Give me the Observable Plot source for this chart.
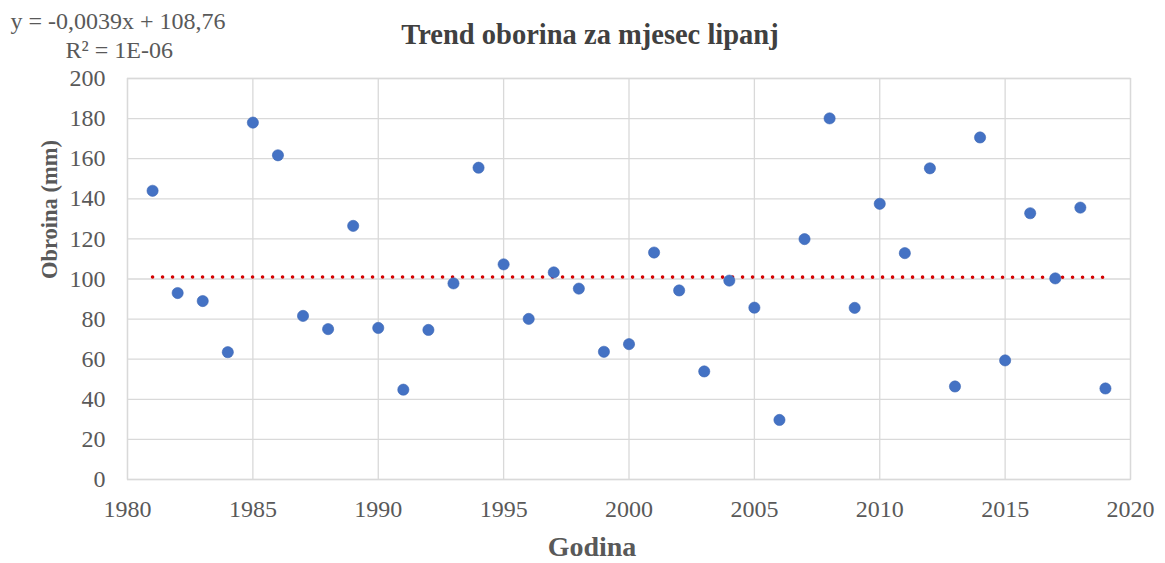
<!DOCTYPE html>
<html>
<head>
<meta charset="utf-8">
<script src="https://cdn.jsdelivr.net/npm/d3@7"></script>
<script src="https://cdn.jsdelivr.net/npm/@observablehq/plot@0.6"></script>
<style>
  html, body { margin: 0; padding: 0; background: #fff; }
  #chart svg { display: block; }
</style>
</head>
<body>
<div id="chart"></div>
<script>
const years = [1981,1982,1983,1984,1985,1986,1987,1988,1989,1990,1991,1992,1993,1994,1995,1996,1997,1998,1999,2000,2001,2002,2003,2004,2005,2006,2007,2008,2009,2010,2011,2012,2013,2014,2015,2016,2017,2018,2019];
const precipitation = [144,93,89,63.5,178,161.7,81.6,75,126.5,75.6,44.8,74.6,97.8,155.5,107.3,80.1,103.3,95.2,63.7,67.5,113.2,94.3,53.9,99.2,85.7,29.7,119.9,180.1,85.6,137.5,112.9,155.2,46.4,170.6,59.4,132.8,100.3,135.6,45.4];
const trendSlope = -0.0039;
const trendIntercept = 108.76;
const trendYears = [1981, 2019];
const xTicks = [1980,1985,1990,1995,2000,2005,2010,2015,2020];
const yTicks = [0,20,40,60,80,100,120,140,160,180,200];
const titleText = "Trend oborina za mjesec lipanj";
const xLabel = "Godina";
const yLabel = "Obroina (mm)";
const eqLine1 = "y = -0,0039x + 108,76";
const eqLine2 = "R² = 1E-06";

const points = years.map((y, i) => ({year: y, value: precipitation[i]}));
const trend = trendYears.map(y => ({year: y, value: trendSlope * y + trendIntercept}));

const serif = "'Liberation Serif', 'Times New Roman', serif";
const gridColor = "#d9d9d9";
const textColor = "#595959";

const chart = Plot.plot({
  width: 1165,
  height: 563,
  marginLeft: 127,
  marginRight: 35,
  marginTop: 78,
  marginBottom: 84,
  style: {fontFamily: serif, fontSize: "24px", color: textColor, background: "#fff"},
  x: {domain: [1980, 2020], ticks: xTicks, tickFormat: d => String(d), label: null},
  y: {domain: [0, 200], ticks: yTicks, label: null},
  marks: [
    Plot.gridY(yTicks, {stroke: gridColor, strokeOpacity: 1, strokeWidth: 1.3}),
    Plot.gridX(xTicks, {stroke: gridColor, strokeOpacity: 1, strokeWidth: 1.3}),
    Plot.frame({stroke: gridColor, strokeWidth: 1.3}),
    Plot.axisX(xTicks, {tickSize: 0, tickPadding: 20, fontSize: 24, fill: textColor, tickFormat: d => String(d)}),
    Plot.axisY(yTicks, {tickSize: 0, tickPadding: 22, fontSize: 24, fill: textColor}),
    Plot.line(trend, {x: "year", y: "value", stroke: "#d40000", strokeWidth: 3.6, strokeDasharray: "0 10", strokeLinecap: "round"}),
    Plot.dot(points, {x: "year", y: "value", r: 5.6, fill: "#4472c4", stroke: "#3d67b3", strokeWidth: 0.6}),
    Plot.text([titleText], {frameAnchor: "top", lineAnchor: "bottom", dx: -39, dy: -35, fontSize: 28.5, fontWeight: "bold", fill: "#404040", fontFamily: serif}),
    Plot.text([eqLine1], {frameAnchor: "top-left", lineAnchor: "bottom", dx: -117, dy: -50, textAnchor: "start", fontSize: 24, fill: textColor, fontFamily: serif}),
    Plot.text([eqLine2], {frameAnchor: "top-left", lineAnchor: "bottom", dx: -62, dy: -21, textAnchor: "start", fontSize: 24, fill: textColor, fontFamily: serif}),
    Plot.text([xLabel], {frameAnchor: "bottom", lineAnchor: "bottom", dx: -37, dy: 76, fontSize: 28, fontWeight: "bold", fill: textColor, fontFamily: serif}),
    Plot.text([yLabel], {frameAnchor: "left", dx: -78, rotate: -90, fontSize: 22.5, fontWeight: "bold", fill: textColor, fontFamily: serif})
  ]
});
document.getElementById("chart").appendChild(chart);
</script>
</body>
</html>
